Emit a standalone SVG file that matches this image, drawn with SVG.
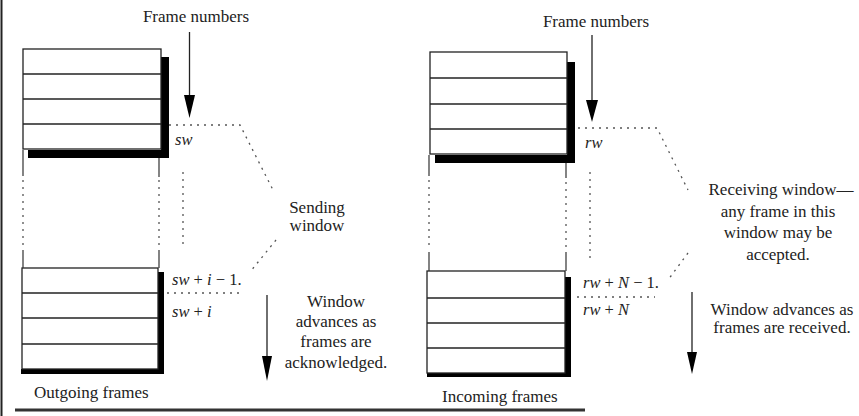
<svg xmlns="http://www.w3.org/2000/svg" width="859" height="416" viewBox="0 0 859 416">
<style>
.box{fill:#fff;stroke:#222;stroke-width:1.3}
.row{stroke:#222;stroke-width:1.3}
.sh{fill:#000}
.side{stroke:#333;stroke-width:1.2;fill:none}
.dot{stroke:#555;stroke-width:1.3;stroke-dasharray:2 5;fill:none}
.arr{stroke:#222;stroke-width:1.3}
.head{fill:#000}
text{font-family:"Liberation Serif","Times New Roman",serif;font-size:17px;fill:#222}
.c{text-anchor:middle}
.m{font-size:16.5px;font-style:italic}
</style>
<rect width="859" height="416" fill="#fff"/>
<line x1="1.5" y1="0" x2="1.5" y2="416" stroke="#222" stroke-width="2"/>
<line x1="15" y1="410" x2="585" y2="410" stroke="#333" stroke-width="3"/>

<g id="outgoing-top">
<polygon class="sh" points="161,57 169,57 169,158 28,158 28,150 161,150"/>
<rect class="box" x="23" y="49" width="138" height="100"/>
<line class="row" x1="23" y1="74" x2="161" y2="74"/>
<line class="row" x1="23" y1="99" x2="161" y2="99"/>
<line class="row" x1="23" y1="124" x2="161" y2="124"/>
</g>
<g id="outgoing-bottom">
<polygon class="sh" points="158,272 164,272 164,374 21,374 21,369 158,369"/>
<rect class="box" x="22" y="268" width="136" height="101"/>
<line class="row" x1="22" y1="293" x2="158" y2="293"/>
<line class="row" x1="22" y1="318" x2="158" y2="318"/>
<line class="row" x1="22" y1="344" x2="158" y2="344"/>
</g>
<g id="outgoing-sides">
<path class="side" d="M23,150 V176 M23,250 V268 M159,158 V177 M159,250 V268"/>
<path class="dot" d="M23,180 V248 M159,180 V248 M183,172 V248"/>
</g>
<g id="incoming-top">
<polygon class="sh" points="567,62 575,62 575,163 435,163 435,155 567,155"/>
<rect class="box" x="430" y="52" width="137" height="102"/>
<line class="row" x1="430" y1="78" x2="567" y2="78"/>
<line class="row" x1="430" y1="104" x2="567" y2="104"/>
<line class="row" x1="430" y1="129" x2="567" y2="129"/>
</g>
<g id="incoming-bottom">
<polygon class="sh" points="565,277 571,277 571,377 427,377 427,373 565,373"/>
<rect class="box" x="427" y="271" width="138" height="102"/>
<line class="row" x1="427" y1="298" x2="565" y2="298"/>
<line class="row" x1="427" y1="323" x2="565" y2="323"/>
<line class="row" x1="427" y1="348" x2="565" y2="348"/>
</g>
<g id="incoming-sides">
<path class="side" d="M429,155 V176 M429,252 V271 M566,163 V178 M566,252 V271"/>
<path class="dot" d="M429,180 V250 M566,182 V250 M590,172 V258"/>
</g>

<g id="connectors">
<path class="dot" d="M169,125 H240 L273,190"/>
<path class="dot" d="M276,240 L250,272"/>
<path class="dot" d="M167,293 H240"/>
<path class="dot" d="M578,128 H657 L688,190"/>
<path class="dot" d="M688,253 L668,280"/>
<path class="dot" d="M577,297 H655"/>
<line class="arr" x1="189.5" y1="32" x2="189.5" y2="100"/>
<polygon class="head" points="184,95 195,95 189.5,118"/>
<line class="arr" x1="592" y1="35" x2="592" y2="104"/>
<polygon class="head" points="586,100 598,100 592,122"/>
<line class="arr" x1="267" y1="295" x2="267" y2="360"/>
<polygon class="head" points="262,356 272,356 267,381"/>
<line class="arr" x1="692" y1="292" x2="692" y2="356"/>
<polygon class="head" points="687,352 697,352 692,374"/>
</g>

<g id="labels-left">
<text class="c" x="196" y="22">Frame numbers</text>
<text class="m" x="175" y="145">sw</text>
<text class="m" x="172" y="285">sw<tspan font-style="normal"> + </tspan>i<tspan font-style="normal"> − 1.</tspan></text>
<text class="m" x="172" y="317">sw<tspan font-style="normal"> + </tspan>i</text>
<text class="c" x="317" y="213">Sending</text>
<text class="c" x="317" y="231">window</text>
<text class="c" x="336" y="307">Window</text>
<text class="c" x="336" y="327">advances as</text>
<text class="c" x="336" y="347">frames are</text>
<text class="c" x="336" y="368">acknowledged.</text>
<text x="34" y="398">Outgoing frames</text>
</g>
<g id="labels-right">
<text class="c" x="596" y="27">Frame numbers</text>
<text class="m" x="585" y="148">rw</text>
<text class="m" x="583" y="288">rw<tspan font-style="normal"> + </tspan>N<tspan font-style="normal"> − 1.</tspan></text>
<text class="m" x="583" y="315">rw<tspan font-style="normal"> + </tspan>N</text>
<text class="c" x="781" y="195">Receiving window—</text>
<text class="c" x="778" y="217">any frame in this</text>
<text class="c" x="778" y="238">window may be</text>
<text class="c" x="778" y="260">accepted.</text>
<text class="c" x="782" y="315">Window advances as</text>
<text class="c" x="782" y="333">frames are received.</text>
<text x="442" y="402">Incoming frames</text>
</g>
</svg>
